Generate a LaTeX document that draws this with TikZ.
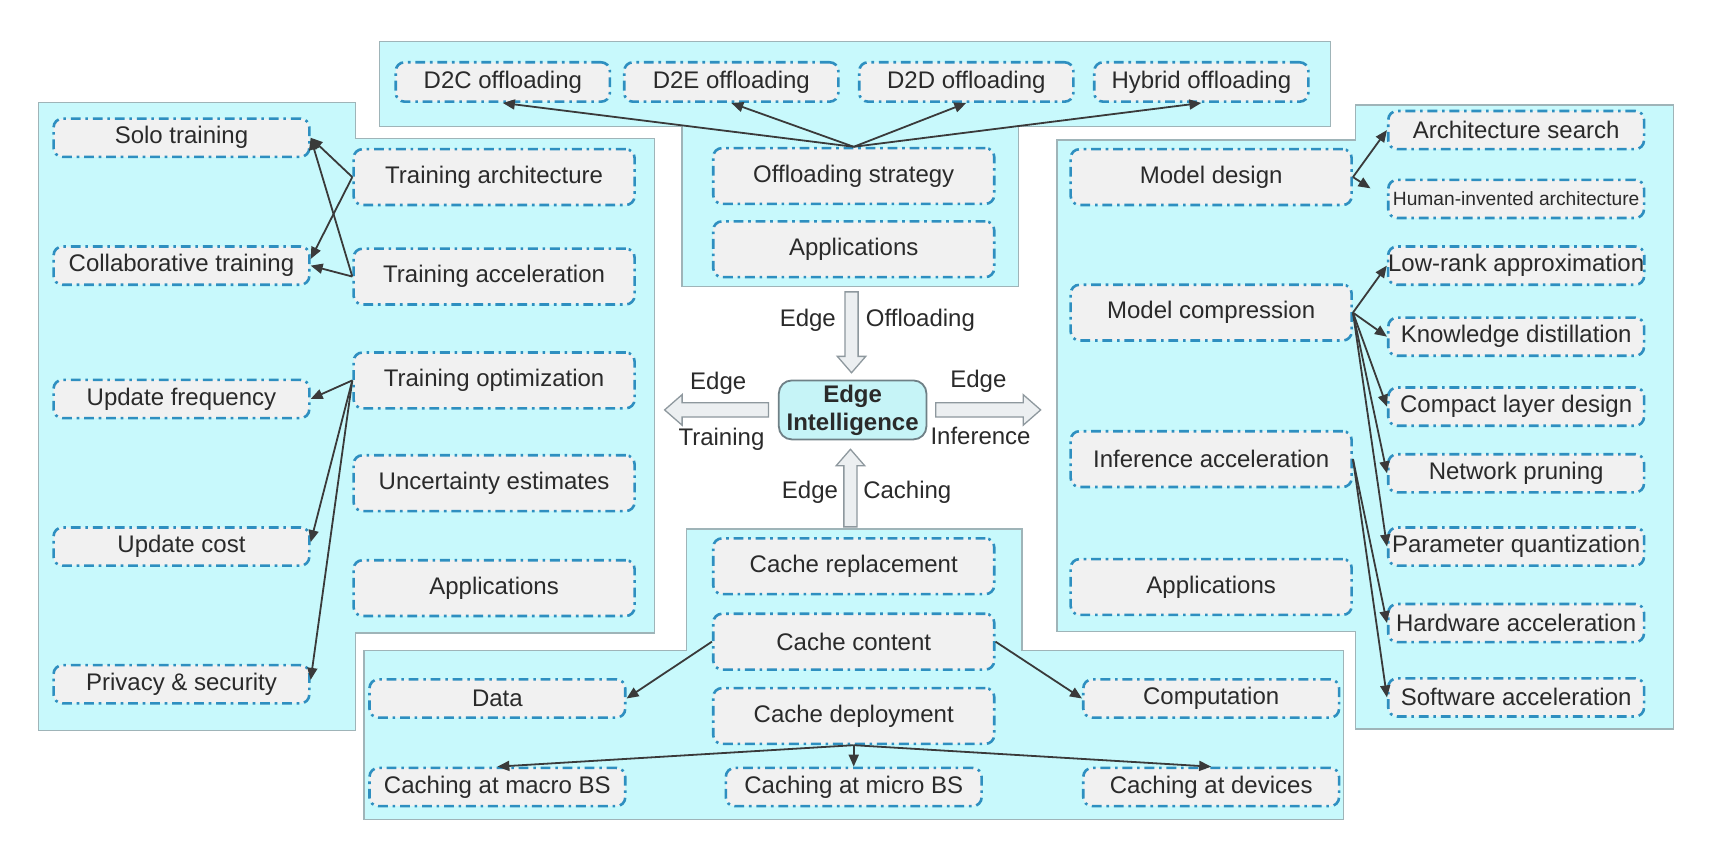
\documentclass[tikz,border=0pt]{standalone}
\usepackage{fontspec}
\setmainfont{Liberation Sans}
\usetikzlibrary{arrows.meta}
\definecolor{panelc}{HTML}{C8F9FC}
\definecolor{panelb}{HTML}{9FB4B8}
\definecolor{boxf}{HTML}{F1F1F1}
\definecolor{boxb}{HTML}{2E8FC0}
\definecolor{arr}{HTML}{3A3A3A}
\definecolor{blkf}{HTML}{ECEFF1}
\definecolor{blkb}{HTML}{8E989E}
\definecolor{eif}{HTML}{C6F4F7}
\definecolor{eib}{HTML}{6F8086}
\definecolor{txt}{HTML}{2A2A2A}
\begin{document}
\begin{tikzpicture}[x=0.5466pt,y=-0.5466pt,
  font=\fontsize{12}{14}\selectfont,
  panel/.style={fill=panelc, draw=panelb, line width=0.65pt},
  bx/.style={draw=boxb, fill=boxf, rounded corners=4.4pt, line width=1.3pt,
    dash pattern=on 4.9pt off 2.4pt on 1.3pt off 2.4pt, inner sep=0pt, text=txt},
  bigbx/.style={bx, minimum width=140.5pt, minimum height=27.9pt},
  smbx/.style={bx, minimum width=127.9pt, minimum height=19.1pt},
  topbx/.style={bx, minimum width=107.1pt, minimum height=19.7pt},
  con/.style={draw=arr, line width=0.9pt, -{Triangle[length=6pt,width=5pt]}},
  blk/.style={fill=blkf, draw=blkb, line width=0.65pt},
  lbl/.style={text=txt, inner sep=0pt}
]
\useasboundingbox (0,0) rectangle (1568,790);
\fill[white] (0,0) rectangle (1568,790);

% panels
\draw[panel] (35,94) -- (325,94) -- (325,127) -- (599,127) -- (599,579) -- (325,579) -- (325,668) -- (35,668) -- cycle;
\draw[panel] (347,38) -- (1217,38) -- (1217,116) -- (932,116) -- (932,262) -- (624,262) -- (624,116) -- (347,116) -- cycle;
\draw[panel] (1240,96) -- (1531,96) -- (1531,667) -- (1240,667) -- (1240,578) -- (967,578) -- (967,128) -- (1240,128) -- cycle;
\draw[panel] (628,484) -- (935,484) -- (935,595) -- (1229,595) -- (1229,750) -- (333,750) -- (333,595) -- (628,595) -- cycle;

% block arrows
\draw[blk] (773,267) -- (785,267) -- (785,326) -- (792,326) -- (779,341) -- (766,326) -- (773,326) -- cycle;
\draw[blk] (772,482) -- (784,482) -- (784,426) -- (791,426) -- (778,411) -- (765,426) -- (772,426) -- cycle;
\draw[blk] (703,368.5) -- (703,381.5) -- (624,381.5) -- (624,389) -- (608,375) -- (624,361) -- (624,368.5) -- cycle;
\draw[blk] (856,368.5) -- (856,381.5) -- (936,381.5) -- (936,389) -- (952,375) -- (936,361) -- (936,368.5) -- cycle;

% centre
\node[draw=eib, fill=eif, rounded corners=6.5pt, line width=0.9pt, minimum width=73.8pt, minimum height=29.5pt,
  inner sep=0pt, align=center, text=txt, font=\fontsize{12}{14}\selectfont\bfseries] (ei) at (780,375) {Edge\\Intelligence};
\node[lbl] (l1) at (739,293) {Edge};
\node[lbl] (l2) at (842,293) {Offloading};
\node[lbl] (l3) at (657,351) {Edge};
\node[lbl] (l4) at (660,402) {Training};
\node[lbl] (l5) at (895,349) {Edge};
\node[lbl] (l6) at (897,399) {Inference};
\node[lbl] (l7) at (741,450) {Edge};
\node[lbl] (l8) at (830,450) {Caching};

% training
\node[smbx] (solo) at (166,126) {Solo training};
\node[smbx] (collab) at (166,243) {Collaborative training};
\node[smbx] (ufreq) at (166,365) {Update frequency};
\node[smbx] (ucost) at (166,500) {Update cost};
\node[smbx] (priv) at (166,626) {Privacy \& security};
\node[bigbx] (tarch) at (452,162) {Training architecture};
\node[bigbx] (tacc) at (452,253) {Training acceleration};
\node[bigbx] (topt) at (452,348) {Training optimization};
\node[bigbx] (unc) at (452,442) {Uncertainty estimates};
\node[bigbx] (tapp) at (452,538) {Applications};

% offloading
\node[topbx] (d2c) at (460,75) {D2C offloading};
\node[topbx] (d2e) at (669,75) {D2E offloading};
\node[topbx] (d2d) at (884,75) {D2D offloading};
\node[topbx] (hyb) at (1099,75) {Hybrid offloading};
\node[bigbx] (ostr) at (781,161) {Offloading strategy};
\node[bigbx] (oapp) at (781,228) {Applications};

% caching
\node[bigbx] (crep) at (781,518) {Cache replacement};
\node[bigbx] (ccont) at (781,587) {Cache content};
\node[bigbx] (cdep) at (781,655) {Cache deployment};
\node[smbx] (data) at (455,639) {Data};
\node[smbx] (comp) at (1108,639) {Computation};
\node[smbx] (macro) at (455,720) {Caching at macro BS};
\node[smbx] (micro) at (781,720) {Caching at micro BS};
\node[smbx] (dev) at (1108,720) {Caching at devices};

% inference
\node[bigbx] (mdes) at (1108,162) {Model design};
\node[bigbx] (mcomp) at (1108,286) {Model compression};
\node[bigbx] (iacc) at (1108,420) {Inference acceleration};
\node[bigbx] (iapp) at (1108,537) {Applications};
\node[smbx] (asrch) at (1387,119) {Architecture search};
\node[smbx, font=\fontsize{9.6}{11}\selectfont] (hia) at (1387,182) {Human-invented architecture};
\node[smbx] (lowr) at (1387,243) {Low-rank approximation};
\node[smbx] (kd) at (1387,308) {Knowledge distillation};
\node[smbx] (cld) at (1387,372) {Compact layer design};
\node[smbx] (npr) at (1387,433) {Network pruning};
\node[smbx] (pq) at (1387,500) {Parameter quantization};
\node[smbx] (hwa) at (1387,570) {Hardware acceleration};
\node[smbx] (swa) at (1387,638) {Software acceleration};

% connectors
\draw[con] (tarch.west) -- (solo.east);
\draw[con] (tarch.west) -- ([yshift=3.3pt]collab.east);
\draw[con] (tacc.west) -- (solo.east);
\draw[con] (tacc.west) -- (collab.east);
\draw[con] (topt.west) -- (ufreq.east);
\draw[con] (topt.west) -- ([yshift=2.2pt]ucost.east);
\draw[con] (topt.west) -- ([yshift=2.2pt]priv.east);
\draw[con] (ostr.north) -- (d2c.south);
\draw[con] (ostr.north) -- (d2e.south);
\draw[con] (ostr.north) -- (d2d.south);
\draw[con] (ostr.north) -- (hyb.south);
\draw[con] (mdes.east) -- (asrch.west);
\draw[con, shorten >=9.8pt] (mdes.east) -- (hia.west);
\draw[con] (mcomp.east) -- (lowr.west);
\draw[con] (mcomp.east) -- (kd.west);
\draw[con] (mcomp.east) -- (cld.west);
\draw[con] (mcomp.east) -- (npr.west);
\draw[con] (mcomp.east) -- (pq.west);
\draw[con] (iacc.east) -- (hwa.west);
\draw[con] (iacc.east) -- (swa.west);
\draw[con] (ccont.west) -- (data.east);
\draw[con] (ccont.east) -- (comp.west);
\draw[con] (cdep.south) -- (macro.north);
\draw[con] (cdep.south) -- (micro.north);
\draw[con] (cdep.south) -- (dev.north);
\end{tikzpicture}
\end{document}
